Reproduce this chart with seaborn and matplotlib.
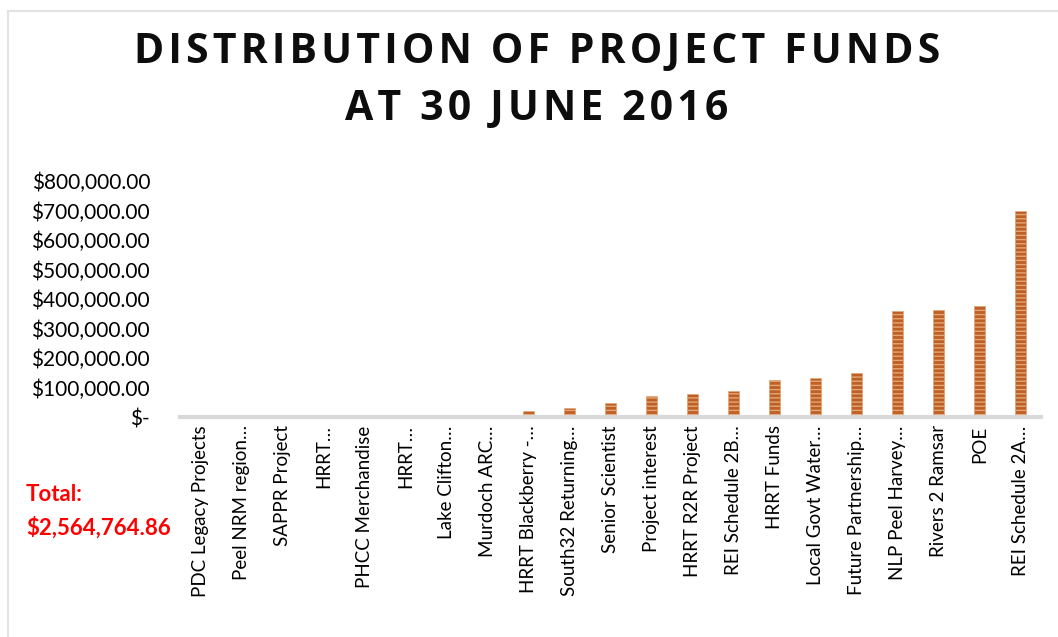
import matplotlib
matplotlib.use("Agg")
import matplotlib.pyplot as plt
import seaborn as sns
import pandas as pd
from matplotlib.patches import Rectangle
from matplotlib.ticker import FuncFormatter

# ----------------------------
# DATA
# ----------------------------
projects = [
    "PDC Legacy Projects", "Peel NRM region…", "SAPPR Project", "HRRT…",
    "PHCC Merchandise", "HRRT…", "Lake Clifton…", "Murdoch ARC…",
    "HRRT Blackberry -…", "South32 Returning…", "Senior Scientist",
    "Project interest", "HRRT R2R Project", "REI Schedule 2B…",
    "HRRT Funds", "Local Govt Water…", "Future Partnership…",
    "NLP Peel Harvey…", "Rivers 2 Ramsar", "POE", "REI Schedule 2A…",
]
funds = [
    150, 300, 500, 800, 1200, 1800, 4000, 5500, 19000, 29500, 49000,
    70500, 78500, 86500, 124000, 131500, 149000, 358000, 364000, 377000, 698000,
]
y_ticks = [0, 100000, 200000, 300000, 400000, 500000, 600000, 700000, 800000]
title_lines = ["DISTRIBUTION OF PROJECT FUNDS", "AT 30 JUNE 2016"]
total_label = "$2,564,764.86"

# two projects share the label "HRRT…", so plot by position
df = pd.DataFrame({"pos": range(len(projects)), "funds": funds})

# ----------------------------
# STYLE
# ----------------------------
sns.set_style("white")
plt.rcParams["font.family"] = ["Lato", "DejaVu Sans"]
plt.rcParams["hatch.linewidth"] = 1.0

bar_dark = "#BE5F26"
bar_light = "#E3A676"

fig = plt.figure(figsize=(10.58, 6.37), dpi=100)
ax = fig.add_axes([180 / 1058, 1 - 417 / 637, (1041 - 180) / 1058, (417 - 181) / 637])

sns.barplot(data=df, x="pos", y="funds", color=bar_dark, width=0.27,
            saturation=1, ax=ax)

for bar in ax.patches:
    bar.set_facecolor(bar_dark)
    bar.set_edgecolor(bar_light)
    bar.set_linewidth(0.5)
    bar.set_hatch("----")

ax.set_ylim(0, 800000)
ax.set_xlim(-0.5, len(projects) - 0.5)
ax.set_yticks(y_ticks)
ax.set_xticks(range(len(projects)))
ax.set_xticklabels(projects, rotation=90)


def money(v, pos):
    if v == 0:
        return "$-"
    return f"${v:,.2f}"


ax.yaxis.set_major_formatter(FuncFormatter(money))
ax.set_xlabel("")
ax.set_ylabel("")
ax.tick_params(axis="y", length=0, pad=21.5, labelsize=15, labelcolor="#000000")
ax.tick_params(axis="x", length=0, pad=6, labelsize=13.5, labelcolor="#000000")

for side in ["top", "right", "left"]:
    ax.spines[side].set_visible(False)
ax.spines["bottom"].set_color("#D9D9D9")
ax.spines["bottom"].set_linewidth(3)

# light frame of the chart area
fig.patches.append(Rectangle((8 / 1058, -0.1), 1.2, 0.1 + (637 - 11) / 637,
                             transform=fig.transFigure, fill=False,
                             edgecolor="#E3E3E3", linewidth=1.5))

# title, spaced out a little with hair spaces
for line, base in zip(title_lines, [63, 120]):
    spaced = "\u200a".join(line)
    fig.text(537 / 1058, 1 - base / 637, spaced,
             ha="center", va="baseline", fontsize=29.5, fontweight="bold",
             family=["Open Sans", "DejaVu Sans"], color="#0D0D0D")

# total
fig.text(26 / 1058, 1 - 501 / 637, "Total:", ha="left", va="baseline",
         fontsize=16, fontweight="bold", color="#FF0000")
fig.text(26 / 1058, 1 - 535 / 637, total_label, ha="left", va="baseline",
         fontsize=16, fontweight="bold", color="#FF0000")

fig.savefig("out.png", dpi=100)
